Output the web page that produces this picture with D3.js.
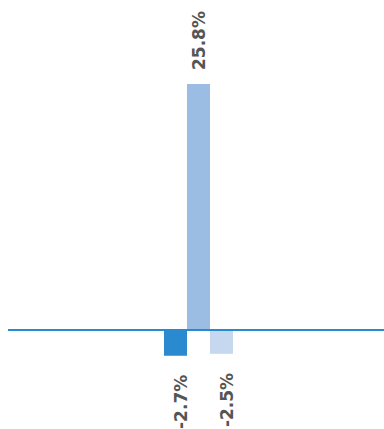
<!DOCTYPE html>
<html>
<head>
<meta charset="utf-8">
<script src="https://cdn.jsdelivr.net/npm/d3@7"></script>
<style>
  html, body { margin: 0; padding: 0; background: #ffffff; }
</style>
</head>
<body>
<div id="chart"></div>
<script>
const categories = ["A", "B", "C"];
const values = [-2.7, 25.8, -2.5];
const labels = ["-2.7%", "25.8%", "-2.5%"];
const colors = ["#2a8ad0", "#9bbde4", "#c6d8ef"];

const width = 384, height = 429;

const svg = d3.select("#chart")
  .append("svg")
  .attr("width", width)
  .attr("height", height);

const x = d3.scaleBand()
  .domain(categories)
  .range([164, 233])
  .padding(0);

const y = d3.scaleLinear()
  .domain([0, 25.8])
  .range([330, 84]);

// Bars
svg.selectAll("rect.bar")
  .data(values)
  .enter()
  .append("rect")
  .attr("class", "bar")
  .attr("x", (d, i) => x(categories[i]))
  .attr("width", x.bandwidth())
  .attr("y", d => y(Math.max(0, d)))
  .attr("height", d => Math.abs(y(d) - y(0)))
  .attr("fill", (d, i) => colors[i]);

// Zero line
svg.append("line")
  .attr("x1", 8)
  .attr("x2", width)
  .attr("y1", y(0))
  .attr("y2", y(0))
  .attr("stroke", "#2a8ad0")
  .attr("stroke-width", 2);

// Value labels, rotated
svg.selectAll("text.label")
  .data(values)
  .enter()
  .append("text")
  .attr("class", "label")
  .attr("transform", (d, i) => {
    const cx = x(categories[i]) + x.bandwidth() / 2 + (d >= 0 ? 1 : 6);
    const cy = d >= 0 ? y(d) - 14 : y(d) + 19;
    return `translate(${cx},${cy}) rotate(-90)`;
  })
  .attr("dy", "0.35em")
  .attr("text-anchor", d => d >= 0 ? "start" : "end")
  .style("font-family", "'DejaVu Sans', sans-serif")
  .style("font-size", "17px")
  .style("font-weight", "bold")
  .style("fill", "#555555")
  .text((d, i) => labels[i]);
</script>
</body>
</html>
